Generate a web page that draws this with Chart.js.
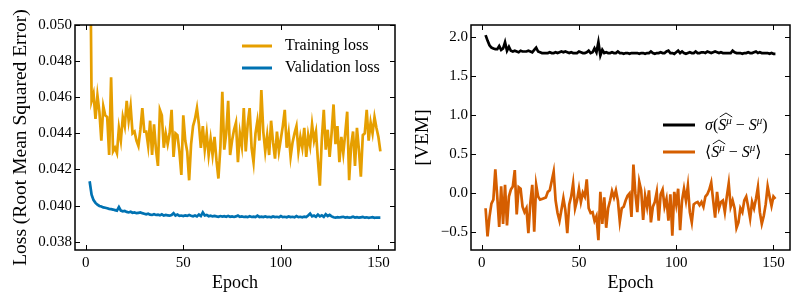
<!DOCTYPE html>
<html>
<head>
<meta charset="utf-8">
<script src="https://cdn.jsdelivr.net/npm/chart.js@4.4.1/dist/chart.umd.min.js"></script>
<style>
  html, body { margin: 0; padding: 0; background: #fff; }
  #wrap { position: relative; width: 804px; height: 307px; }
  canvas { position: absolute; top: 0; }
  #lossChart { left: 0; }
  #vemChart { left: 402px; }
</style>
</head>
<body>
<div id="wrap">
  <canvas id="lossChart" width="402" height="307"></canvas>
  <canvas id="vemChart" width="402" height="307"></canvas>
</div>
<script>
// epochs run from 2 to 151
const firstEpoch = 2;

const trainLoss = [
  0.0580, 0.0458, 0.0462, 0.0448, 0.0461, 0.0452, 0.0436, 0.0455, 0.0450, 0.0449,
  0.0428, 0.0471, 0.0430, 0.0432, 0.0429, 0.0443, 0.0436, 0.0449, 0.0444, 0.0458,
  0.0447, 0.0455, 0.0440, 0.0441, 0.0436, 0.0433, 0.0442, 0.0454, 0.0441, 0.0441,
  0.0433, 0.0447, 0.0428, 0.0445, 0.0431, 0.0422, 0.0453, 0.0450, 0.0432, 0.0440,
  0.0434, 0.0440, 0.0453, 0.0427, 0.0440, 0.0439, 0.0430, 0.0417, 0.0450, 0.0436,
  0.0430, 0.0414, 0.0434, 0.0444, 0.0448, 0.0454, 0.0445, 0.0432, 0.0444, 0.0431,
  0.0440, 0.0428, 0.0437, 0.0428, 0.0438, 0.0425, 0.0415, 0.0432, 0.0463, 0.0431,
  0.0440, 0.0458, 0.0428, 0.0436, 0.0442, 0.0446, 0.0424, 0.0440, 0.0433, 0.0454,
  0.0430, 0.0445, 0.0454, 0.0432, 0.0424, 0.0440, 0.0447, 0.0436, 0.0464, 0.0441,
  0.0430, 0.0439, 0.0428, 0.0447, 0.0435, 0.0426, 0.0441, 0.0430, 0.0437, 0.0444,
  0.0453, 0.0432, 0.0440, 0.0427, 0.0435, 0.0440, 0.0444, 0.0430, 0.0438, 0.0432,
  0.0443, 0.0427, 0.0439, 0.0433, 0.0445, 0.0436, 0.0441, 0.0425, 0.0411, 0.0437,
  0.0453, 0.0431, 0.0442, 0.0427, 0.0440, 0.0456, 0.0434, 0.0444, 0.0424, 0.0438,
  0.0429, 0.0440, 0.0452, 0.0414, 0.0433, 0.0441, 0.0422, 0.0443, 0.0431, 0.0416,
  0.0439, 0.0440, 0.0453, 0.0436, 0.0446, 0.0440, 0.0449, 0.0443, 0.0438, 0.0430
];

const valLoss = [
  0.04135, 0.04060, 0.04030, 0.04015, 0.04005, 0.03998, 0.03995, 0.03990, 0.03988, 0.03985,
  0.03982, 0.03980, 0.03978, 0.03975, 0.03972, 0.03992, 0.03972, 0.03968, 0.03970, 0.03965,
  0.03962, 0.03966, 0.03960, 0.03962, 0.03958, 0.03960, 0.03962, 0.03958, 0.03955, 0.03952,
  0.03955, 0.03950, 0.03948, 0.03952, 0.03948, 0.03950, 0.03946, 0.03952, 0.03945, 0.03948,
  0.03946, 0.03944, 0.03948, 0.03958, 0.03945, 0.03950, 0.03943, 0.03945, 0.03942, 0.03946,
  0.03943, 0.03948, 0.03944, 0.03941, 0.03945, 0.03940, 0.03950, 0.03942, 0.03962, 0.03945,
  0.03948, 0.03941, 0.03944, 0.03940, 0.03943, 0.03940, 0.03938, 0.03942, 0.03939, 0.03941,
  0.03938, 0.03943, 0.03938, 0.03940, 0.03937, 0.03940, 0.03945, 0.03938, 0.03940, 0.03937,
  0.03939, 0.03936, 0.03941, 0.03937, 0.03939, 0.03936, 0.03944, 0.03937, 0.03939, 0.03936,
  0.03940, 0.03936, 0.03938, 0.03935, 0.03940, 0.03936, 0.03938, 0.03935, 0.03942, 0.03936,
  0.03938, 0.03935, 0.03940, 0.03936, 0.03938, 0.03935, 0.03942, 0.03936, 0.03938, 0.03935,
  0.03939, 0.03936, 0.03945, 0.03956, 0.03940, 0.03945, 0.03938, 0.03950, 0.03940, 0.03946,
  0.03938, 0.03952, 0.03942, 0.03948, 0.03940, 0.03935, 0.03933, 0.03936, 0.03934, 0.03936,
  0.03938, 0.03934, 0.03936, 0.03933, 0.03935, 0.03938, 0.03934, 0.03936, 0.03933, 0.03935,
  0.03937, 0.03933, 0.03935, 0.03932, 0.03934, 0.03936, 0.03932, 0.03934, 0.03933, 0.03933
];

// sigma of (S_hat - S), in VEM
const sigmaDiff = [
  2.02, 1.95, 1.89, 1.86, 1.85, 1.84, 1.84, 1.88, 1.83, 1.85,
  1.93, 1.82, 1.87, 1.82, 1.81, 1.82, 1.81, 1.80, 1.82, 1.81,
  1.81, 1.81, 1.82, 1.81, 1.80, 1.83, 1.86, 1.81, 1.80, 1.79,
  1.79, 1.79, 1.79, 1.80, 1.79, 1.79, 1.80, 1.79, 1.80, 1.81,
  1.80, 1.81, 1.80, 1.79, 1.80, 1.79, 1.79, 1.79, 1.81, 1.80,
  1.79, 1.79, 1.80, 1.82, 1.79, 1.80, 1.85, 1.80, 1.93, 1.76,
  1.83, 1.79, 1.80, 1.79, 1.79, 1.80, 1.79, 1.79, 1.81, 1.79,
  1.79, 1.78, 1.79, 1.79, 1.78, 1.79, 1.79, 1.79, 1.79, 1.78,
  1.79, 1.79, 1.78, 1.79, 1.79, 1.81, 1.79, 1.78, 1.79, 1.79,
  1.80, 1.79, 1.79, 1.81, 1.82, 1.79, 1.79, 1.78, 1.80, 1.82,
  1.79, 1.81, 1.79, 1.78, 1.79, 1.80, 1.79, 1.79, 1.81, 1.79,
  1.79, 1.80, 1.80, 1.79, 1.81, 1.80, 1.79, 1.80, 1.81, 1.80,
  1.79, 1.80, 1.79, 1.79, 1.79, 1.79, 1.79, 1.82, 1.80, 1.79,
  1.79, 1.79, 1.78, 1.79, 1.79, 1.80, 1.79, 1.79, 1.80, 1.81,
  1.79, 1.80, 1.79, 1.79, 1.79, 1.79, 1.78, 1.79, 1.78, 1.78
];

// mean of (S_hat - S), in VEM
const meanDiff = [
  -0.20, -0.56, -0.31, -0.14, -0.09, 0.30, -0.05, -0.44, 0.08, -0.40,
  0.10, -0.42, -0.05, 0.04, 0.08, 0.29, -0.28, 0.07, 0.05, -0.18,
  -0.25, -0.20, -0.52, -0.13, 0.10, -0.50, 0.10, -0.05, -0.09, -0.08,
  -0.07, -0.06, 0.01, 0.03, 0.15, 0.27, -0.10, -0.26, -0.36, -0.22,
  -0.07, -0.22, -0.52, -0.15, -0.05, 0.12, -0.20, -0.10, 0.05, -0.12,
  0.00, -0.05, 0.17, -0.20, -0.26, -0.25, -0.36, -0.30, -0.61, 0.01,
  -0.40, -0.06, -0.45, -0.20, -0.10, 0.02, -0.06, 0.03, -0.10, -0.37,
  -0.20, -0.18, -0.10, -0.04, -0.01, -0.31, 0.36, -0.01, -0.25, 0.14,
  0.03, -0.35, -0.04, -0.18, 0.03, -0.38, -0.18, -0.12, 0.01, -0.36,
  -0.02, 0.04, -0.18, -0.08, -0.36, -0.02, -0.55, 0.01, -0.15, 0.05,
  -0.48, -0.10, 0.05, -0.10, 0.09, -0.25, -0.38, -0.15, -0.13, -0.12,
  -0.16, -0.12, -0.18, -0.05, -0.02, 0.04, 0.13, -0.10, -0.32, 0.01,
  -0.20, -0.12, -0.10, -0.25, -0.05, 0.12, -0.18, -0.10, -0.20, -0.45,
  -0.38, -0.20, -0.25, -0.10, -0.05, -0.18, -0.33, -0.12, -0.20, -0.08,
  0.07, -0.25, -0.40, -0.30, -0.15, 0.08, -0.05, -0.17, -0.05, -0.08
];

const xTicks = [0, 50, 100, 150];
const lossTicks = [0.038, 0.040, 0.042, 0.044, 0.046, 0.048, 0.050];
const vemTicks = [-0.5, 0.0, 0.5, 1.0, 1.5, 2.0];

const ORANGE = '#E69F00';
const BLUE = '#0072B2';
const VERMIL = '#D55E00';
const SERIF = '"Liberation Serif", "DejaVu Serif", serif';

Chart.defaults.font.family = SERIF;
Chart.defaults.color = '#000';

function pts(arr) {
  return arr.map((v, i) => ({ x: firstEpoch + i, y: v }));
}

// matplotlib style frame with inward ticks on all four sides
const frameTicks = {
  id: 'frameTicks',
  afterDraw(chart) {
    const { ctx, chartArea: a, scales: { x, y } } = chart;
    const len = 5;
    ctx.save();
    ctx.strokeStyle = '#000';
    ctx.lineWidth = 1;
    ctx.beginPath();
    x.ticks.forEach(t => {
      const px = Math.round(x.getPixelForValue(t.value)) + 0.5;
      ctx.moveTo(px, a.bottom); ctx.lineTo(px, a.bottom - len);
      ctx.moveTo(px, a.top); ctx.lineTo(px, a.top + len);
    });
    y.ticks.forEach(t => {
      const py = Math.round(y.getPixelForValue(t.value)) + 0.5;
      ctx.moveTo(a.left, py); ctx.lineTo(a.left + len, py);
      ctx.moveTo(a.right, py); ctx.lineTo(a.right - len, py);
    });
    ctx.stroke();
    ctx.lineWidth = 1.5;
    ctx.strokeRect(a.left, a.top, a.right - a.left, a.bottom - a.top);
    ctx.restore();
  }
};

function legendLine(ctx, x0, x1, y, color) {
  ctx.strokeStyle = color;
  ctx.lineWidth = 3;
  ctx.beginPath();
  ctx.moveTo(x0, y);
  ctx.lineTo(x1, y);
  ctx.stroke();
}

// draws  open + hat(S^mu) - S^mu + close  with the baseline at y
function mathLabel(ctx, x, y, openParts, close) {
  const up = '16px ' + SERIF;
  const it = 'italic 16px ' + SERIF;
  const sup = 'italic 11px ' + SERIF;
  let cx = x;
  const put = (t, f, dy = 0) => {
    ctx.font = f;
    ctx.fillText(t, cx, y + dy);
    cx += ctx.measureText(t).width;
  };
  openParts.forEach(p => put(p[0], p[1] ? it : up));
  const h0 = cx;
  put('S', it);
  put('\u03bc', sup, -6);
  const h1 = cx;
  ctx.strokeStyle = '#000';
  ctx.lineWidth = 0.9;
  ctx.beginPath();
  ctx.moveTo(h0 + 1.5, y - 13);
  ctx.lineTo((h0 + h1) / 2 + 1, y - 17);
  ctx.lineTo(h1 + 0.5, y - 13);
  ctx.stroke();
  put(' \u2212 ', up);
  put('S', it);
  put('\u03bc', sup, -6);
  put(close, up);
}

const lossLegend = {
  id: 'lossLegend',
  afterDraw(chart) {
    const ctx = chart.ctx;
    ctx.save();
    legendLine(ctx, 242, 272, 46, ORANGE);
    legendLine(ctx, 242, 272, 68, BLUE);
    ctx.fillStyle = '#000';
    ctx.font = '16px ' + SERIF;
    ctx.textBaseline = 'middle';
    ctx.fillText('Training loss', 285, 46);
    ctx.fillText('Validation loss', 285, 68);
    ctx.restore();
  }
};

const vemLegend = {
  id: 'vemLegend',
  afterDraw(chart) {
    const ctx = chart.ctx;
    ctx.save();
    legendLine(ctx, 261, 293, 125, '#000');
    legendLine(ctx, 261, 293, 152, VERMIL);
    ctx.fillStyle = '#000';
    ctx.textBaseline = 'alphabetic';
    mathLabel(ctx, 303, 130, [['\u03c3', true], ['(', false]], ')');
    mathLabel(ctx, 303, 157, [['\u27e8', false]], '\u27e9');
    ctx.restore();
  }
};

function makeChart(id, datasets, yCfg, yAxisWidth, padRight, legendPlugin) {
  return new Chart(document.getElementById(id), {
    type: 'line',
    data: { datasets },
    options: {
      responsive: false,
      animation: false,
      events: [],
      layout: { padding: { top: 25, right: padRight, left: 0, bottom: 0 } },
      elements: { point: { radius: 0 }, line: { tension: 0, borderWidth: 2.7 } },
      plugins: { legend: { display: false }, tooltip: { enabled: false } },
      scales: {
        x: {
          type: 'linear',
          min: -5.5,
          max: 158.5,
          afterFit(s) { s.height = 57; },
          afterBuildTicks(s) { s.ticks = xTicks.map(v => ({ value: v })); },
          grid: { display: false, drawTicks: false },
          border: { display: false },
          ticks: { font: { size: 15 }, padding: 4, maxRotation: 0, autoSkip: false },
          title: { display: true, text: 'Epoch', font: { size: 18 }, padding: { top: 0, bottom: 13 } }
        },
        y: {
          min: yCfg.min,
          max: yCfg.max,
          afterFit(s) { s.width = yAxisWidth; },
          afterBuildTicks(s) { s.ticks = yCfg.ticks.map(v => ({ value: v })); },
          grid: { display: false, drawTicks: false },
          border: { display: false },
          ticks: { font: { size: 15 }, padding: 3, autoSkip: false, callback: yCfg.fmt },
          title: { display: true, text: yCfg.title, font: { size: 19.5 }, padding: { top: 9, bottom: 0 } }
        }
      }
    },
    plugins: [frameTicks, legendPlugin]
  });
}

makeChart('lossChart', [
  { data: pts(trainLoss), borderColor: ORANGE },
  { data: pts(valLoss), borderColor: BLUE }
], {
  min: 0.03754, max: 0.050, ticks: lossTicks,
  title: 'Loss (Root Mean Squared Error)',
  fmt: v => v.toFixed(3)
}, 75, 7, lossLegend);

makeChart('vemChart', [
  { data: pts(sigmaDiff), borderColor: '#000' },
  { data: pts(meanDiff), borderColor: VERMIL }
], {
  min: -0.735, max: 2.15, ticks: vemTicks,
  title: '[VEM]',
  fmt: v => v.toFixed(1).replace('-', '\u2212')
}, 69, 14, vemLegend);
</script>
</body>
</html>
